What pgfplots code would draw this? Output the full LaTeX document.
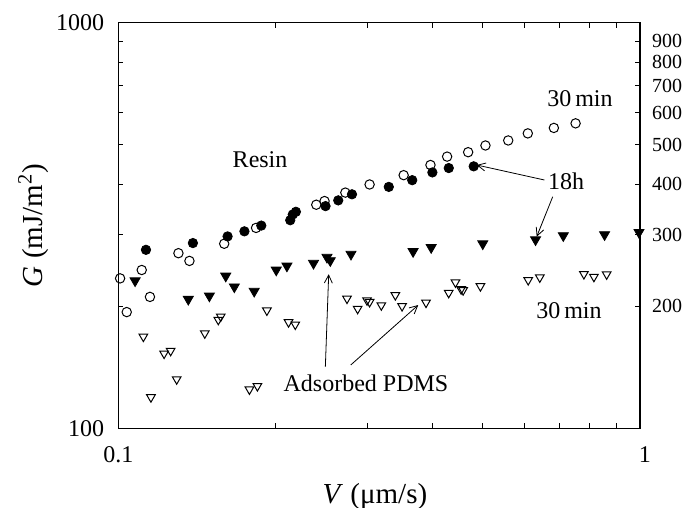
\documentclass[border=0pt]{standalone}
\usepackage{fontspec}
\setmainfont{Liberation Serif}
\usepackage{pgfplots}
\pgfplotsset{compat=1.18}
\usetikzlibrary{arrows.meta}
\newcommand{\lf}{\fontsize{12}{14}\selectfont}
\newcommand{\rf}{\fontsize{10}{12}\selectfont}
\newcommand{\af}{\fontsize{14.5}{17}\selectfont}
\begin{document}
\begin{tikzpicture}[x=1pt,y=1pt]
\begin{axis}[
  at={(0,0)}, anchor=south west,
  scale only axis, width=260.85pt, height=202.9pt,
  xmode=log, ymode=log,
  xmin=0.1, xmax=1, ymin=100, ymax=1000,
  clip=false,
  xtick={0.1,1}, xticklabels={0.1,\hspace*{5pt}1},
  minor xtick={0.2,0.3,0.4,0.5,0.6,0.7,0.8,0.9},
  ytick={100,1000}, yticklabels={100,1000},
  minor ytick={200,300,400,500,600,700,800,900},
  ytick pos=left,
  tick align=inside,
  major tick length=0pt, minor tick length=2.6pt,
  axis line style={line width=0.6pt},
  tick style={line width=0.5pt, black},
  tick label style={font=\lf},
  /pgf/number format/assume math mode=true,
  yticklabel style={xshift=-3.5pt},
  xticklabel style={yshift=-5.5pt},
  label style={font=\af},
  xlabel={\textit{V} (μm/s)},
  ylabel={\textit{G} (mJ/m\textsuperscript{2})},
  xlabel style={at={(axis description cs:0.492,-0.168)}, anchor=center},
  ylabel style={at={(axis description cs:-0.163,0.5)}, anchor=center},
]
% 30 min resin (open circles)
\addplot[only marks, mark=o, mark size=2.35pt, mark options={line width=0.5pt}, black] coordinates {
(0.1008,234.4) (0.1038,193.6) (0.1109,245.8) (0.1150,211.0) (0.1304,270.4)
(0.1369,258.8) (0.1596,285.3) (0.1837,312.1) (0.2396,356.0) (0.2485,363.5)
(0.2724,381.4) (0.3032,399.4) (0.3524,421.0) (0.3967,446.0) (0.4269,467.7)
(0.4684,479.6) (0.5056,498.2) (0.5590,512.6) (0.6095,533.6) (0.6838,550.4)
(0.7526,564.9)
};
% 18 h resin (filled circles)
\addplot[only marks, mark=*, mark size=2.35pt, black] coordinates {
(0.113,275.6) (0.139,286.4) (0.162,297.4) (0.1745,306.1) (0.188,316.2)
(0.2136,326.0) (0.216,336.8) (0.219,342.0) (0.2496,353.2) (0.264,364.9)
(0.2805,377.7) (0.330,393.9) (0.366,409.2) (0.400,427.6) (0.430,438.3)
(0.480,442.6)
};
% 18 h adsorbed PDMS (filled triangles)
\addplot[only marks, mark=triangle*, mark size=2.9pt, mark options={rotate=180}, black] coordinates {
(0.1077,231.2) (0.1362,208.2) (0.1495,212.2) (0.1607,237.5) (0.1669,223.4)
(0.1822,217.9) (0.2008,245.8) (0.2105,251.5) (0.2367,255.4) (0.2512,264.3)
(0.2549,259.3) (0.2793,268.9) (0.3674,273.0) (0.3979,279.3) (0.4996,285.3)
(0.6307,291.9) (0.7129,298.7) (0.8553,300.4) (0.9955,304.4)
};
% 30 min adsorbed PDMS (open triangles)
\addplot[only marks, mark=triangle, mark size=2.5pt, mark options={rotate=180, line width=0.5pt}, black] coordinates {
(0.1117,168.4) (0.1155,119.4) (0.1224,153.0) (0.1260,155.4) (0.1294,132.2)
(0.1465,171.6) (0.1555,185.3) (0.1572,188.8) (0.1784,124.8) (0.1848,127.2)
(0.1927,195.4) (0.2120,182.8) (0.2184,180.4) (0.2744,209.0) (0.2876,197.3)
(0.2998,207.0) (0.3032,205.0) (0.3193,201.2) (0.3397,213.1) (0.3499,200.3)
(0.3890,204.3) (0.4299,215.9) (0.4429,229.1) (0.4541,220.4) (0.4581,219.2)
(0.4945,224.2) (0.6106,232.1) (0.6427,235.7) (0.7807,240.2) (0.8160,236.5)
(0.8632,239.8)
};
\node[font=\lf] at (axis cs:0.187,459) {Resin};
\node[font=\lf] at (axis cs:0.7674,648.6) {30\,min};
\node[font=\lf] at (axis cs:0.722,407.3) {18h};
\node[font=\lf] at (axis cs:0.731,194.8) {30\,min};
\node[font=\lf] at (axis cs:0.2984,129.5) {Adsorbed PDMS};
\draw[line width=0.4pt, -{Straight Barb[length=4pt,width=4pt]}] (axis cs:0.6559,409.6) -- (axis cs:0.4864,446.0);
\draw[line width=0.4pt, -{Straight Barb[length=4pt,width=4pt]}] (axis cs:0.6803,372.6) -- (axis cs:0.6339,296.9);
\draw[line width=0.4pt, -{Straight Barb[length=4pt,width=4pt]}] (axis cs:0.2494,142.0) -- (axis cs:0.2531,240.0);
\draw[line width=0.4pt, -{Straight Barb[length=4pt,width=4pt]}] (axis cs:0.279,143.4) -- (axis cs:0.3758,201.5);
\end{axis}
\begin{axis}[
  at={(0,0)}, anchor=south west,
  scale only axis, width=260.85pt, height=202.9pt,
  xmode=log, ymode=log,
  xmin=0.1, xmax=1, ymin=100, ymax=1000,
  hide x axis,
  axis y line*=right,
  axis line style={line width=0.6pt, -},
  ytick={200,300,400,500,600,700,800,900},
  yticklabels={200,300,400,500,600,700,800,900},
  minor ytick={},
  tick align=inside,
  major tick length=2.6pt,
  tick style={line width=0.5pt, black},
  tick label style={font=\rf},
  /pgf/number format/assume math mode=true,
  yticklabel style={xshift=2.5pt},
]
\end{axis}
\pgfresetboundingbox
\useasboundingbox (-59.15,-39.75) rectangle (283.35,214.25);
\end{tikzpicture}
\end{document}
